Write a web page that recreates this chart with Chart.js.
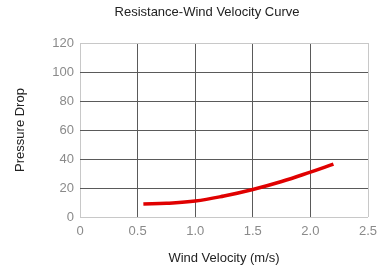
<!DOCTYPE html>
<html>
<head>
<meta charset="utf-8">
<script src="https://cdn.jsdelivr.net/npm/chart.js@4/dist/chart.umd.min.js"></script>
<style>
  html, body { margin: 0; padding: 0; background: #fff; }
  #wrap { width: 385px; height: 269px; position: relative; }
</style>
</head>
<body>
<div id="wrap"><canvas id="c" width="385" height="269"></canvas></div>
<script>
// wind velocity (m/s) and pressure drop
const velocity = [0.55, 0.75, 1.0, 1.25, 1.5, 1.75, 2.0, 2.2];
const pressure = [9, 9.5, 11, 14.5, 19, 24.5, 31, 36.5];
const xTicks = [0, 0.5, 1, 1.5, 2, 2.5];
const yTicks = [0, 20, 40, 60, 80, 100, 120];

const font = "'Liberation Sans', Arial, sans-serif";

// gridlines inside are dark, the outer frame is light
const gridColor = (ctx, n) => (ctx.index === 0 || ctx.index === n - 1) ? '#c8c8c8' : '#5a5a5a';

// nudge the title a bit right like in the original
const titleShift = {
  id: 'titleShift',
  afterLayout(chart) {
    if (chart.titleBlock) chart.titleBlock.left = 46;
  }
};

new Chart(document.getElementById('c'), {
  type: 'scatter',
  data: {
    datasets: [{
      data: velocity.map((v, i) => ({ x: v, y: pressure[i] })),
      showLine: true,
      borderColor: '#e00000',
      borderWidth: 3.5,
      pointRadius: 0,
      tension: 0.4,
      fill: false
    }]
  },
  options: {
    responsive: false,
    animation: false,
    layout: { padding: { left: 0, right: 17, top: 0, bottom: 0 } },
    plugins: {
      legend: { display: false },
      tooltip: { enabled: false },
      title: {
        display: true,
        text: 'Resistance-Wind Velocity Curve',
        color: '#222',
        font: { family: font, size: 13, weight: 'normal' },
        padding: { top: 5, bottom: 22.4 }
      }
    },
    scales: {
      x: {
        type: 'linear',
        min: 0, max: 2.5,
        afterBuildTicks: s => { s.ticks = xTicks.map(v => ({ value: v })); },
        afterFit: s => { s.height = 52; },
        ticks: { color: '#8a8a8a', font: { family: font, size: 13 }, padding: 7 },
        grid: { color: c => gridColor(c, xTicks.length), drawTicks: false, lineWidth: 1 },
        border: { display: false },
        title: {
          display: true,
          text: 'Wind Velocity (m/s)',
          color: '#222',
          font: { family: font, size: 13 },
          padding: { top: 0, bottom: 3 }
        }
      },
      y: {
        type: 'linear',
        min: 0, max: 120,
        afterBuildTicks: s => { s.ticks = yTicks.map(v => ({ value: v })); },
        afterFit: s => { s.width = 80; },
        ticks: { color: '#8a8a8a', font: { family: font, size: 13 }, padding: 6 },
        grid: { color: c => gridColor(c, yTicks.length), drawTicks: false, lineWidth: 1 },
        border: { display: false },
        title: {
          display: true,
          text: 'Pressure Drop',
          color: '#222',
          font: { family: font, size: 13 },
          padding: { top: 13, bottom: 0 }
        }
      }
    }
  },
  plugins: [titleShift]
});
</script>
</body>
</html>
